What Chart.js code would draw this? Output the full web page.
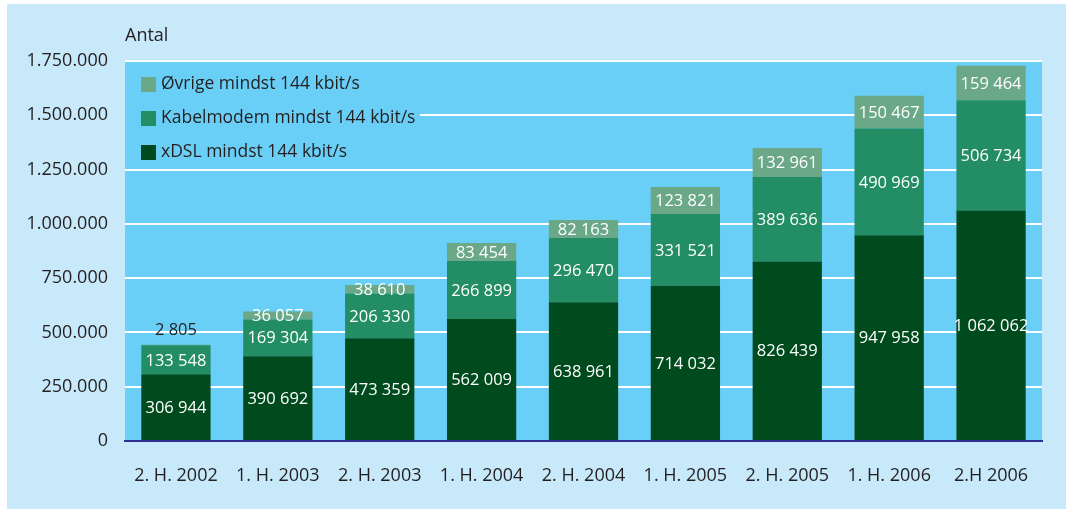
<!DOCTYPE html>
<html>
<head>
<meta charset="utf-8">
<script src="https://cdn.jsdelivr.net/npm/chart.js@4/dist/chart.umd.min.js"></script>
<style>
	html, body { margin: 0; padding: 0; background: #ffffff; }
	#wrap { width: 1067px; height: 509px; }
</style>
</head>
<body>
<div id="wrap"><canvas id="chart" width="1067" height="509"></canvas></div>
<script>
const categories = ['2. H. 2002', '1. H. 2003', '2. H. 2003', '1. H. 2004', '2. H. 2004', '1. H. 2005', '2. H. 2005', '1. H. 2006', '2.H 2006']
const xdsl = [306944, 390692, 473359, 562009, 638961, 714032, 826439, 947958, 1062062]
const kabel = [133548, 169304, 206330, 266899, 296470, 331521, 389636, 490969, 506734]
const ovrige = [2805, 36057, 38610, 83454, 82163, 123821, 132961, 150467, 159464]
const yTicks = [0, 250000, 500000, 750000, 1000000, 1250000, 1500000, 1750000]

const FONT = '"Open Sans", sans-serif'
const TEXT = '#231f20'
const OUTER = '#c7e9f9'
const PLOT = '#6acff6'

const fmtTick = (v) => v === 0 ? '0' : v.toString().replace(/\B(?=(\d{3})+(?!\d))/g, '.')
const fmtLabel = (v) => v.toString().replace(/\B(?=(\d{3})+(?!\d))/g, ' ')

const background = {
	id: 'background',
	beforeDraw(chart) {
		const { ctx, chartArea } = chart
		ctx.save()
		ctx.fillStyle = '#ffffff'
		ctx.fillRect(0, 0, chart.width, chart.height)
		ctx.fillStyle = OUTER
		ctx.fillRect(7, 4, chart.width - 8, chart.height - 4)
		ctx.fillStyle = PLOT
		ctx.fillRect(chartArea.left, chartArea.top, chartArea.right - chartArea.left, chartArea.bottom - chartArea.top)
		ctx.fillStyle = TEXT
		ctx.font = '18px ' + FONT
		ctx.textAlign = 'left'
		ctx.textBaseline = 'middle'
		ctx.fillText('Antal', chartArea.left, 36)
		ctx.restore()
	},
}

const barLabels = {
	id: 'barLabels',
	afterDatasetsDraw(chart) {
		const { ctx } = chart
		ctx.save()
		ctx.font = '16.5px ' + FONT
		ctx.textAlign = 'center'
		ctx.textBaseline = 'middle'
		chart.data.datasets.forEach((ds, i) => {
			chart.getDatasetMeta(i).data.forEach((bar, j) => {
				const h = bar.base - bar.y
				if (h < 5) {
					ctx.fillStyle = TEXT
					ctx.fillText(fmtLabel(ds.data[j]), bar.x, bar.y - 14)
				} else {
					ctx.fillStyle = '#ffffff'
					ctx.fillText(fmtLabel(ds.data[j]), bar.x, (bar.y + bar.base) / 2 + 1)
				}
			})
		})
		ctx.restore()
	},
}

const boxLegend = {
	id: 'boxLegend',
	afterDraw(chart) {
		const { ctx, chartArea } = chart
		const left = chartArea.left
		const top = chartArea.top + 2
		ctx.save()
		ctx.fillStyle = PLOT
		ctx.fillRect(left, top, 295, 104)
		ctx.font = '17.5px ' + FONT
		ctx.textAlign = 'left'
		ctx.textBaseline = 'middle'
		const items = chart.data.datasets.slice().reverse()
		items.forEach((ds, k) => {
			const y = top + 21 + k * 34
			ctx.fillStyle = ds.backgroundColor
			ctx.fillRect(left + 16, y - 7, 15, 15)
			ctx.fillStyle = TEXT
			ctx.fillText(ds.label, left + 36, y)
		})
		ctx.restore()
	},
}

new Chart(document.getElementById('chart'), {
	type: 'bar',
	data: {
		labels: categories,
		datasets: [
			{ label: 'xDSL mindst 144 kbit/s', data: xdsl, backgroundColor: '#004b1d' },
			{ label: 'Kabelmodem mindst 144 kbit/s', data: kabel, backgroundColor: '#238d66' },
			{ label: 'Øvrige mindst 144 kbit/s', data: ovrige, backgroundColor: '#6aa887' },
		],
	},
	options: {
		responsive: false,
		animation: false,
		categoryPercentage: 0.68,
		barPercentage: 1,
		layout: { padding: { top: 61, right: 25, bottom: 0, left: 0 } },
		plugins: {
			legend: { display: false },
			tooltip: { enabled: false },
		},
		scales: {
			x: {
				stacked: true,
				grid: { display: false, drawTicks: false },
				border: { display: true, color: '#2e3192', width: 2 },
				ticks: { color: TEXT, font: { family: FONT, size: 18 }, padding: 24, maxRotation: 0 },
				afterFit(scale) { scale.height = 68 },
			},
			y: {
				stacked: true,
				min: 0,
				max: 1750000,
				afterBuildTicks(scale) { scale.ticks = yTicks.map((v) => ({ value: v })) },
				grid: { color: '#ffffff', lineWidth: 2, drawTicks: false },
				border: { display: false },
				ticks: { color: TEXT, font: { family: FONT, size: 18 }, padding: 17, callback: (v) => fmtTick(v) },
				afterFit(scale) { scale.width = 125 },
			},
		},
	},
	plugins: [background, barLabels, boxLegend],
})
</script>
</body>
</html>
